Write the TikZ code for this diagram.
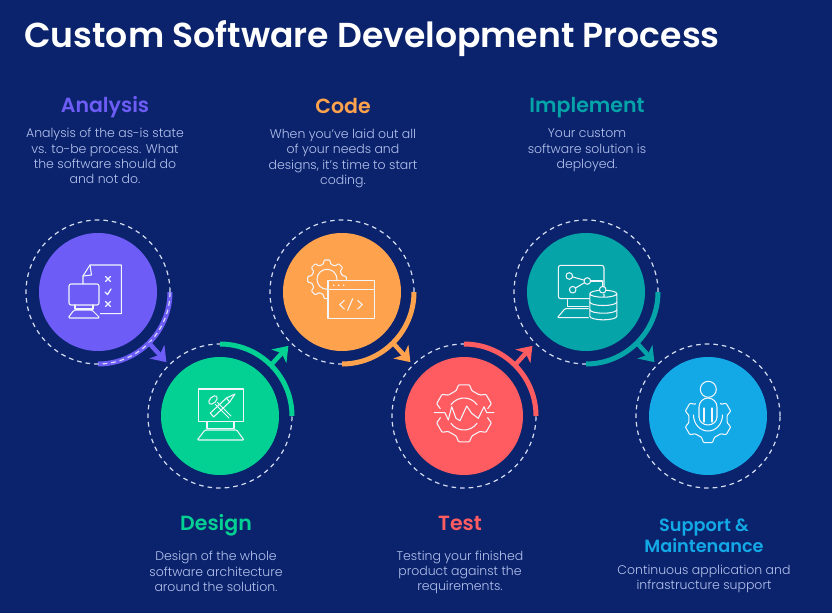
\documentclass[tikz,border=0pt]{standalone}
\usepackage{fontspec}
\setmainfont{Poppins Light}
\newfontfamily\headfont{Poppins SemiBold}
\usetikzlibrary{positioning, arrows.meta}
\definecolor{pagenavy}{HTML}{0A236C}
\definecolor{ringwhite}{HTML}{D5DDF2}
\definecolor{iconwhite}{HTML}{F2F5FA}
\definecolor{bodyblue}{HTML}{B4C2EE}
\definecolor{analysisviolet}{HTML}{6E5CF6}
\definecolor{designgreen}{HTML}{03D193}
\definecolor{codeorange}{HTML}{FFA24E}
\definecolor{testred}{HTML}{FF5C62}
\definecolor{implementteal}{HTML}{05A4A9}
\definecolor{supportblue}{HTML}{13A8E6}
\tikzset{
  stepdisc/.style={circle, minimum size=118pt, inner sep=0pt, outer sep=0pt},
  stepring/.style={circle, draw=ringwhite, line width=1.2pt, dash pattern=on 4.6pt off 4pt,
    minimum size=144pt, inner sep=0pt, outer sep=0pt},
  stepbend/.style={line width=5pt},
  steparrow/.style={line width=4.5pt, shorten >=4pt, -{Stealth[length=14pt, width=20pt, inset=4pt]}},
  icon/.style={draw=iconwhite, line width=1.05pt, line join=round, line cap=round},
  steptitle/.style={font=\headfont\fontsize{20.5}{21}\selectfont, inner sep=0pt, align=center, anchor=base},
  stepbody/.style={font=\fontsize{12.5}{15.3}\selectfont, text=bodyblue, inner sep=0pt, align=center}
}
% outline of a toothed wheel: centre, root radius, tip radius, teeth, turn
\newcommand{\gearwheel}[5]{%
  \pgfmathsetmacro\gearstep{360/#4}
  \draw[icon, rounded corners=.8pt, shift={(#1)}, rotate=#5] (-.32*\gearstep:#2)
    \foreach \t in {1,...,#4} {
      -- (\t*\gearstep-1.18*\gearstep:#3) -- (\t*\gearstep-.82*\gearstep:#3)
      -- (\t*\gearstep-.68*\gearstep:#2) -- (\t*\gearstep-.32*\gearstep:#2)
    } -- cycle;
}
\begin{document}
\begin{tikzpicture}[x=1pt, y=-1pt]
  \path[use as bounding box, fill=pagenavy] (0,0) rectangle (832,613);

  \node[anchor=base west, inner sep=0pt, text=white, font=\headfont\fontsize{34.6}{36}\selectfont] (pagetitle) at (24,47.3) {Custom Software Development Process};

  % the six steps
  \node[stepdisc, fill=analysisviolet] (analysis) at (98,292) {};
  \node[stepdisc, fill=designgreen] (design) at (220,416) {};
  \node[stepdisc, fill=codeorange] (code) at (342,292) {};
  \node[stepdisc, fill=testred] (test) at (464,416) {};
  \node[stepdisc, fill=implementteal] (implement) at (586,292) {};
  \node[stepdisc, fill=supportblue] (support) at (708,416) {};

  \node[stepring] (designring) at (design) {};
  \node[stepring] (codering) at (code) {};
  \node[stepring] (testring) at (test) {};
  \node[stepring] (implementring) at (implement) {};
  \node[stepring] (supportring) at (support) {};

  % bends and arrows
  \draw[stepbend, analysisviolet] (98+72,292) arc[start angle=0, end angle=90, radius=72];
  \node[stepring] (analysisring) at (analysis) {};
  \draw[steparrow, analysisviolet] (analysisring.-45) -- (designring.135);
  \draw[stepbend, designgreen] (designring.north) arc[start angle=-90, end angle=0, radius=72];
  \draw[steparrow, designgreen] (designring.45) -- (codering.-135);
  \draw[stepbend, codeorange] (codering.east) arc[start angle=0, end angle=90, radius=72];
  \draw[steparrow, codeorange] (codering.-45) -- (testring.135);
  \draw[stepbend, testred] (testring.north) arc[start angle=-90, end angle=0, radius=72];
  \draw[steparrow, testred] (testring.45) -- (implementring.-135);
  \draw[stepbend, implementteal] (implementring.east) arc[start angle=0, end angle=90, radius=72];
  \draw[steparrow, implementteal] (implementring.-45) -- (supportring.135);

  % analysis icon
  \begin{scope}[shift={(analysis.center)}]
    \draw[icon] (-15,-8) -- (-15,-16) -- (-8,-27) -- (23.3,-27) -- (23.3,21.7) -- (2.3,21.7);
    \draw[icon] (-8,-27) -- (-6.5,-17) -- (-15,-16);
    \draw[icon, rounded corners=2pt] (-29,-8) rectangle (1,13);
    \draw[icon] (-23,13) -- (-23,17) -- (-5,17) -- (-5,13);
    \draw[icon, rounded corners=1.5pt] (-24,18) -- (-6,18) -- (2,26) -- (-30,26) -- cycle;
    \foreach \y in {-13,12} {
      \draw[icon, line width=1.3pt] (7.5,\y-2.5) -- (12.5,\y+2.5) (12.5,\y-2.5) -- (7.5,\y+2.5);
    }
    \draw[icon, line width=1.3pt] (7,0) -- (9.5,2.5) -- (13,-3);
  \end{scope}

  % design icon
  \begin{scope}[shift={(design.center)}]
    \draw[icon] (-21.7,-27) rectangle (23.3,5.7);
    \draw[icon] (-13,5.7) -- (-13,12.3) -- (14,12.3) -- (14,5.7);
    \draw[icon, rounded corners=1pt] (-15,14) -- (16.7,14) -- (24,24) -- (-22.7,24) -- cycle;
    \draw[icon] (-2.5,-13.5) -- (11,0) (-4.5,-11.5) -- (9,2);
    \draw[icon, rotate around={45:(-7,-16)}] (-7,-16) ellipse (5.2 and 3);
    \draw[icon] (15,-22) -- (6.3,-17.9) -- (-9.7,-2.9) -- (-6.3,.9) -- (9.7,-14.1) -- cycle;
    \draw[icon] (6.3,-17.9) -- (9.7,-14.1);
  \end{scope}

  % code icon
  \begin{scope}[shift={(code.center)}]
    \gearwheel{-15,-12.7}{15.5}{19.5}{8}{0}
    \draw[icon] (-15,-12.7) circle (10);
    \draw[icon, fill=codeorange] (-14,-11.7) rectangle (32.7,26.7);
    \draw[icon] (-14,-2.7) -- (32.7,-2.7);
    \foreach \x in {-8.3,-3.3,1.7} {
      \fill[iconwhite] (\x,-6.7) circle (.9);
    }
    \draw[icon] (2.3,8.3) -- (-2.3,12.7) -- (2.3,17);
    \draw[icon] (10.7,6.7) -- (5.7,18.3);
    \draw[icon] (15.7,8.3) -- (20.3,12.7) -- (15.7,17);
  \end{scope}

  % test icon
  \begin{scope}[shift={(test.center)}]
    \gearwheel{0,-2.7}{24}{29}{6}{30}
    \fill[testred] (-32,-7) rectangle (-22,1) (22,-7) rectangle (32,1);
    \draw[icon] (0,-2) ++(-145:16) arc[start angle=-145, end angle=-35, radius=16];
    \draw[icon] (0,-2) ++(35:16) arc[start angle=35, end angle=145, radius=16];
    \draw[icon] (-29.7,-3.3) -- (-19,-3.3) -- (-15.7,4) -- (-12.3,-9.3) -- (-8,2.3) -- (-4,4.7) -- (2.7,-10)
      -- (7.7,-2.7) -- (14.3,2.3) -- (20,-9.3) -- (22.7,-3.3) -- (30,-3.3);
  \end{scope}

  % implement icon
  \begin{scope}[shift={(implement.center)}]
    \draw[icon, rounded corners=2.5pt] (-27.7,-26.7) rectangle (18,6.7);
    \draw[icon] (-18.7,7.7) -- (-18.7,14.3) -- (2.3,14.3);
    \draw[icon, rounded corners=1pt] (2.3,16.7) -- (-21,16.7) -- (-28.7,25.7) -- (2.3,25.7);
    \draw[icon, fill=implementteal] (3.8,1.7) -- (3.8,24.3) arc[start angle=180, end angle=0, x radius=13.5, y radius=3.5]
      -- (30.8,1.7) arc[start angle=0, end angle=360, x radius=13.5, y radius=3.5];
    \draw[icon] (3.8,10) arc[start angle=180, end angle=0, x radius=13.5, y radius=3.5];
    \draw[icon] (3.8,17.7) arc[start angle=180, end angle=0, x radius=13.5, y radius=3.5];
    \draw[icon] (-16.7,-16) -- (1.3,-11) -- (-13.3,-2.3);
    \draw[icon] (1.3,-11) -- (16.7,-11) -- (16.7,-2.3);
    \draw[icon, fill=implementteal] (-16.7,-16) circle (3.3) (1.3,-11) circle (3.3) (-13.3,-2.3) circle (3.3) (16.7,-2.3) circle (3.3);
  \end{scope}

  % support icon
  \begin{scope}[shift={(support.center)}]
    \gearwheel{0,3}{19.5}{24}{6}{30}
    \fill[supportblue] (-12,-30) rectangle (12,-6);
    \draw[icon] (0.3,-26.7) circle (8);
    \draw[icon] (-9,1) -- (-9,-9) arc[start angle=180, end angle=360, radius=9] -- (9,1);
    \draw[icon] (-4,6) -- (-4,-8) (4,-8) -- (4,6);
    \draw[icon] (-14.5,-1) arc[start angle=180, end angle=0, x radius=14.5, y radius=16];
    \draw[icon] (-9,1) arc[start angle=180, end angle=0, x radius=9, y radius=8];
  \end{scope}

  % labels
  \node[steptitle, text=analysisviolet] (analysistitle) at (105,112.3) {Analysis};
  \node[stepbody, below=16pt of analysistitle.base] (analysistext) {Analysis of the as-is state\\vs. to-be process. What\\the software should do\\and not do.};
  \node[steptitle, text=codeorange] (codetitle) at (343,113.3) {Code};
  \node[stepbody, below=15.7pt of codetitle.base] (codetext) {When you've laid out all\\of your needs and\\designs, it's time to start\\coding.};
  \node[steptitle, text=implementteal] (implementtitle) at (587,112.3) {Implement};
  \node[stepbody, below=16.5pt of implementtitle.base] (implementtext) {Your custom\\software solution is\\deployed.};
  \node[steptitle, text=designgreen] (designtitle) at (216,530.7) {Design};
  \node[stepbody, below=20.5pt of designtitle.base] (designtext) {Design of the whole\\software architecture\\around the solution.};
  \node[steptitle, text=testred] (testtitle) at (460,530.7) {Test};
  \node[stepbody, below=20pt of testtitle.base] (testtext) {Testing your finished\\product against the\\requirements.};
  \node[steptitle, text=supportblue, anchor=south, font=\headfont\fontsize{17.7}{21}\selectfont] (supporttitle) at (704,552.5) {Support \&\\Maintenance};
  \node[stepbody, below=12.5pt of supporttitle.south] (supporttext) {Continuous application and\\infrastructure support};
\end{tikzpicture}
\end{document}
